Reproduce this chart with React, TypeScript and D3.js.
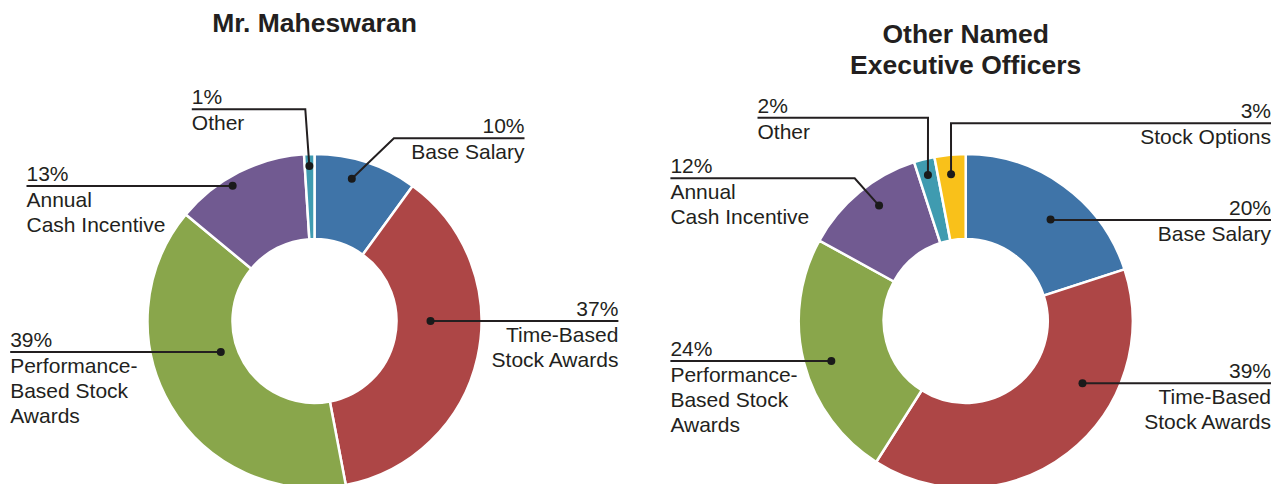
import React from "react";
import * as d3 from "d3";

// ---- Data ----
const leftTitle = ["Mr. Maheswaran"];
const leftCategories = ["Base Salary", "Time-Based Stock Awards", "Performance-Based Stock Awards", "Annual Cash Incentive", "Other"];
const leftValues = [10, 37, 39, 13, 1];

const rightTitle = ["Other Named", "Executive Officers"];
const rightCategories = ["Base Salary", "Time-Based Stock Awards", "Performance-Based Stock Awards", "Annual Cash Incentive", "Other", "Stock Options"];
const rightValues = [20, 39, 24, 12, 2, 3];

const labelLines: Record<string, string[]> = {
  "Base Salary": ["Base Salary"],
  "Time-Based Stock Awards": ["Time-Based", "Stock Awards"],
  "Performance-Based Stock Awards": ["Performance-", "Based Stock", "Awards"],
  "Annual Cash Incentive": ["Annual", "Cash Incentive"],
  "Other": ["Other"],
  "Stock Options": ["Stock Options"],
};

// ---- Styles ----
const colors: Record<string, string> = {
  "Base Salary": "#3F74A8",
  "Time-Based Stock Awards": "#AD4646",
  "Performance-Based Stock Awards": "#89A64B",
  "Annual Cash Incentive": "#715A91",
  "Other": "#3F9BB0",
  "Stock Options": "#F9C11A",
};

type Ann = { dotAngle: number; dotR: number; side: "left" | "right"; textX: number; lineY: number; elbowX?: number };

// annotation layout (leader lines & label placement)
const leftAnn: Ann[] = [
  { dotAngle: 14.7, dotR: 147, side: "right", textX: 524.5, lineY: 138.3, elbowX: 393.9 },
  { dotAngle: 90, dotR: 116, side: "right", textX: 618.4, lineY: 321 },
  { dotAngle: 251.7, dotR: 98.7, side: "left", textX: 10.2, lineY: 352 },
  { dotAngle: 328.8, dotR: 158, side: "left", textX: 26.5, lineY: 186 },
  { dotAngle: 358.1, dotR: 155, side: "left", textX: 191.8, lineY: 109.3, elbowX: 305.3 },
];
const rightAnn: Ann[] = [
  { dotAngle: 39.9, dotR: 132.3, side: "right", textX: 1271, lineY: 220 },
  { dotAngle: 118.1, dotR: 132.4, side: "right", textX: 1271, lineY: 383.3 },
  { dotAngle: 253.4, dotR: 140.2, side: "left", textX: 670.4, lineY: 361 },
  { dotAngle: 323.1, dotR: 144.3, side: "left", textX: 670.4, lineY: 178.3, elbowX: 854.7 },
  { dotAngle: 345.5, dotR: 150.8, side: "left", textX: 757.5, lineY: 117.7, elbowX: 928 },
  { dotAngle: 354.3, dotR: 147.4, side: "right", textX: 1271, lineY: 123.3, elbowX: 951 },
];

const FONT = "'Liberation Sans', Arial, Helvetica, sans-serif";
const TEXT = "#231F20";
const LABEL_SIZE = 21;

function Donut({ cx, cy, title, titleY, categories, values, ann }: {
  cx: number; cy: number; title: string[]; titleY: number[]; categories: string[]; values: number[]; ann: Ann[];
}) {
  const pie = d3.pie<number>().sort(null).value((d) => d);
  const arcs = pie(values);
  const arc = d3.arc<d3.PieArcDatum<number>>().innerRadius(82).outerRadius(167);
  const lineGen = d3.line();
  return (
    <g>
      {title.map((t, i) => (
        <text key={t} x={cx} y={titleY[i]} textAnchor="middle" fontFamily={FONT} fontWeight="bold" fontSize={26.5} fill={TEXT}>
          {t}
        </text>
      ))}
      <g transform={`translate(${cx},${cy})`}>
        {arcs.map((a, i) => (
          <path key={categories[i]} d={arc(a) || ""} fill={colors[categories[i]]} stroke="#fff" strokeWidth={2.5} />
        ))}
      </g>
      {arcs.map((a, i) => {
        const an = ann[i];
        const rad = (an.dotAngle * Math.PI) / 180;
        const dx = cx + an.dotR * Math.sin(rad);
        const dy = cy - an.dotR * Math.cos(rad);
        const ex = an.elbowX ?? dx;
        const pts: [number, number][] = [[an.textX, an.lineY], [ex, an.lineY], [dx, dy]];
        const anchor = an.side === "right" ? "end" : "start";
        const lines = labelLines[categories[i]];
        return (
          <g key={categories[i] + "-lbl"}>
            <path d={lineGen(pts) || ""} fill="none" stroke="#231F20" strokeWidth={2} />
            <circle cx={dx} cy={dy} r={4} fill="#1a1a1a" />
            <text x={an.textX} y={an.lineY - 5} textAnchor={anchor} fontFamily={FONT} fontSize={LABEL_SIZE} fill={TEXT}>
              {values[i]}%
            </text>
            {lines.map((l, j) => (
              <text key={l} x={an.textX} y={an.lineY + 21 + 25 * j} textAnchor={anchor} fontFamily={FONT} fontSize={LABEL_SIZE} fill={TEXT}>
                {l}
              </text>
            ))}
          </g>
        );
      })}
    </g>
  );
}

export default function App() {
  return (
    <svg width={1275} height={484} style={{ position: "absolute", left: 0, top: 0, background: "#fff" }}>
      <rect width={1275} height={484} fill="#fff" />
      <Donut cx={314.5} cy={321} title={leftTitle} titleY={[31.7]} categories={leftCategories} values={leftValues} ann={leftAnn} />
      <Donut cx={965.7} cy={321} title={rightTitle} titleY={[43.3, 74]} categories={rightCategories} values={rightValues} ann={rightAnn} />
    </svg>
  );
}
